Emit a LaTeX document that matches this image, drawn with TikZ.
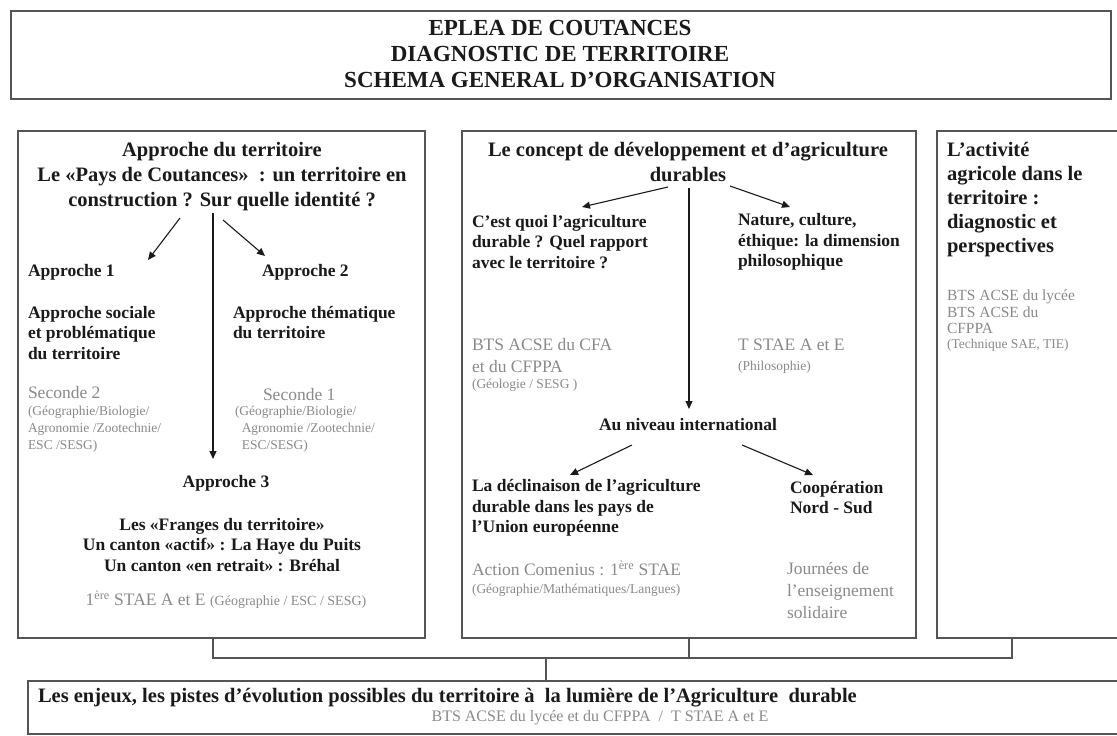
\documentclass[tikz,border=0pt]{standalone}
\usepackage{fontspec}
\setmainfont{Liberation Serif}
\usetikzlibrary{arrows.meta}
\definecolor{linegrey}{HTML}{555555}
\definecolor{txtgrey}{HTML}{8A8A8A}
\definecolor{ink}{HTML}{1A1A1A}
\tikzset{
  every node/.style={inner sep=0pt, outer sep=0pt, text=ink},
  box/.style={draw=linegrey, line width=1.2pt, rectangle, anchor=north west, inner sep=0pt},
  conn/.style={draw=linegrey, line width=1.1pt},
  arr/.style={draw=ink, line width=1.1pt, -{Triangle[length=8pt,width=7pt]}},
  ttl/.style={font=\bfseries\fontsize{23}{26}\selectfont, align=center},
  hd/.style={font=\bfseries\fontsize{20.5}{25}\selectfont},
  sb/.style={font=\bfseries\fontsize{17.5}{20.5}\selectfont},
  gr/.style={text=txtgrey, font=\fontsize{17.5}{22}\selectfont},
  grs/.style={text=txtgrey, font=\fontsize{15.5}{16.5}\selectfont},
  sm/.style={text=txtgrey, font=\fontsize{13.5}{17}\selectfont},
}
\begin{document}
\begin{tikzpicture}[x=1pt,y=-1pt]
\useasboundingbox (0,0) rectangle (1117,736);
\fill[white] (0,0) rectangle (1117,736);

% boxes
\node[box, minimum width=1100pt, minimum height=88pt] (TB) at (11,11) {};
\node[box, minimum width=407pt, minimum height=507pt] (L) at (18,131) {};
\node[box, minimum width=454pt, minimum height=507pt] (M) at (462,131) {};
\node[box, minimum width=190pt, minimum height=507pt] (R) at (937,131) {};
\node[box, minimum width=1100pt, minimum height=53pt] (B) at (28,681) {};

% title
\node[ttl] (T) at (560,54) {EPLEA DE COUTANCES\\DIAGNOSTIC DE TERRITOIRE\\SCHEMA GENERAL D'ORGANISATION};

% ---------- left box
\node[hd, align=center] (LH) at (222,177) {Approche du territoire\\Le «Pays de Coutances»\ \ : un territoire en\\construction ? Sur quelle identité ?};
\node[sb, anchor=west] (A1) at (28,272) {Approche 1};
\node[sb, anchor=west] (A2) at (262,272) {Approche 2};
\node[sb, anchor=west, align=left] (A1t) at (28,333) {Approche sociale\\et problématique\\du territoire};
\node[sb, anchor=west, align=left] (A2t) at (233,322.5) {Approche thématique\\du territoire};
\node[gr, anchor=west] (S2) at (28,393) {Seconde 2};
\node[sm, anchor=west, align=left] (S2s) at (28,429) {(Géographie/Biologie/\\Agronomie /Zootechnie/\\ESC /SESG)};
\node[gr, anchor=west] (S1) at (263,395) {Seconde 1};
\node[sm, anchor=west, align=left] (S1s) at (235,429) {(Géographie/Biologie/\\\ \ Agronomie /Zootechnie/\\\ \ ESC/SESG)};
\node[sb] (A3) at (226,483) {Approche 3};
\node[sb, align=center] (F) at (222,545) {Les «Franges du territoire»\\Un canton «actif» : La Haye du Puits\\Un canton «en retrait» : Bréhal};
\node[gr] (P1) at (226,600) {1\textsuperscript{ère} STAE A et E {\fontsize{14}{15}\selectfont(Géographie / ESC / SESG)}};

\coordinate (a1s) at (180,218);
\coordinate (a1e) at (148,260);
\coordinate (a2s) at (223,220);
\coordinate (a2e) at (265,256);
\coordinate (a3s) at (213,213);
\coordinate (a3e) at (213,459);
\draw[arr] (a1s) -- (a1e);
\draw[arr] (a2s) -- (a2e);
\draw[arr] (a3s) -- (a3e);

% ---------- middle box
\node[hd, align=center] (MH) at (688,162) {Le concept de développement et d'agriculture\\durables};
\node[sb, anchor=west, align=left] (Q1) at (472,242) {C'est quoi l'agriculture\\durable ? Quel rapport\\avec le territoire ?};
\node[sb, anchor=west, align=left] (Q2) at (738,242) {Nature, culture,\\éthique: la dimension\\philosophique};
\node[gr, anchor=west, align=left] (G1) at (472,356) {BTS ACSE du CFA\\et du CFPPA};
\node[sm, anchor=west] (G1s) at (472,385) {(Géologie / SESG )};
\node[gr, anchor=west] (G2) at (738,345) {T STAE A et E};
\node[sm, anchor=west] (G2s) at (738,367) {(Philosophie)};
\node[sb] (AN) at (688,425) {Au niveau international};
\node[sb, anchor=west, align=left] (D1) at (472,508) {La déclinaison de l'agriculture\\durable dans les pays de\\l'Union européenne};
\node[sb, anchor=west, align=left] (D2) at (790,497.5) {Coopération\\Nord - Sud};
\node[gr, anchor=west] (E1) at (472,568) {Action Comenius : 1\textsuperscript{ère} STAE};
\node[sm, anchor=west] (E1s) at (472,590) {(Géographie/Mathématiques/Langues)};
\node[gr, anchor=west, align=left] (E2) at (787,590) {Journées de\\l'enseignement\\solidaire};

\coordinate (m1s) at (668,187);
\coordinate (m1e) at (582,207);
\coordinate (m2s) at (730,186);
\coordinate (m2e) at (790,207);
\coordinate (m3s) at (689,188);
\coordinate (m3e) at (689,409);
\coordinate (m4s) at (632,445);
\coordinate (m4e) at (570,475);
\coordinate (m5s) at (742,445);
\coordinate (m5e) at (813,475);
\draw[arr] (m1s) -- (m1e);
\draw[arr] (m2s) -- (m2e);
\draw[arr] (m3s) -- (m3e);
\draw[arr] (m4s) -- (m4e);
\draw[arr] (m5s) -- (m5e);

% ---------- right box
\node[hd, anchor=west, align=left, font=\bfseries\fontsize{20.5}{24}\selectfont] (RH) at (947,200) {L'activité\\agricole dans le\\territoire :\\diagnostic et\\perspectives};
\node[grs, anchor=west, align=left] (RG) at (947,312) {BTS ACSE du lycée\\BTS ACSE du\\CFPPA};
\node[sm, anchor=west] (RGs) at (947,345) {(Technique SAE, TIE)};

% ---------- bottom box
\node[font=\bfseries\fontsize{20.5}{22}\selectfont, anchor=west] (BT) at (38,698) {Les enjeux, les pistes d'évolution possibles du territoire à\ \ la lumière de l'Agriculture\ \ durable};
\node[text=txtgrey, font=\fontsize{16}{17}\selectfont] (BS) at (600,718) {BTS ACSE du lycée et du CFPPA\ \ /\ \ T STAE A et E};

% ---------- connectors
\coordinate (cl) at (213,658);
\coordinate (cm) at (689,658);
\coordinate (cr) at (1012,658);
\coordinate (cb) at (546,658);
\draw[conn] (L.south -| cl) -- (cl) -- (cr) -- (R.south -| cr);
\draw[conn] (M.south -| cm) -- (cm);
\draw[conn] (cb) -- (B.north -| cb);
\end{tikzpicture}
\end{document}
